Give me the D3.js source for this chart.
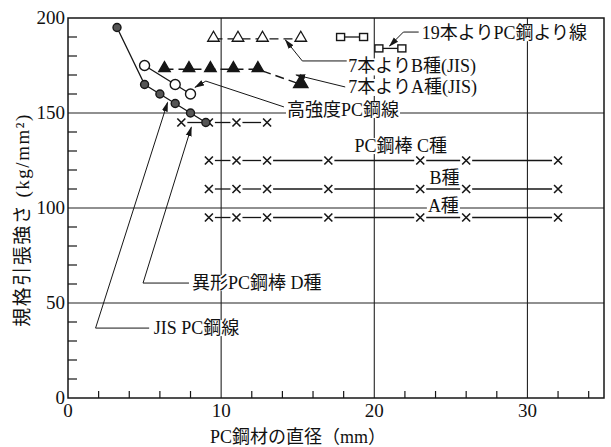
<!DOCTYPE html>
<html>
<head>
<meta charset="utf-8">
<script src="https://cdn.jsdelivr.net/npm/d3@7"></script>
<style>
	body { margin: 0; background: #fff; }
	svg text { font-family: "Liberation Serif", "Noto Sans CJK JP", serif; fill: #111; }
</style>
</head>
<body>
<div id="chart"></div>
<script>
	// --- data (diameter mm, strength kg/mm2) ---
	var jisX = [3.2, 5, 6, 7, 8, 9];
	var jisY = [195, 165, 160, 155, 150, 145];
	var highX = [5, 7, 8];
	var highY = [175, 165, 160];
	var s7aX = [6.3, 7.9, 9.3, 10.8, 12.4, 15.2];
	var s7aY = [173, 173, 173, 173, 173, 165];
	var s7bX = [9.5, 11.1, 12.7, 15.2];
	var s7bY = [189, 189, 189, 189];
	var s19aX = [17.8, 19.3];
	var s19aY = [190, 190];
	var s19bX = [20.3, 21.8];
	var s19bY = [184, 184];
	var barDX = [7.4, 9.2, 11, 13];
	var barDY = [145, 145, 145, 145];
	var barX = [9.2, 11, 13, 17, 23, 26, 32];
	var barCY = [125, 125, 125, 125, 125, 125, 125];
	var barBY = [110, 110, 110, 110, 110, 110, 110];
	var barAY = [95, 95, 95, 95, 95, 95, 95];
	var xTicks = [0, 10, 20, 30];
	var yTicks = [0, 50, 100, 150, 200];

	var W = 611, H = 447;
	var svg = d3.select('#chart').append('svg')
		.attr('width', W)
		.attr('height', H)

	var x = d3.scaleLinear().domain([0, 35]).range([68, 604])
	var y = d3.scaleLinear().domain([0, 200]).range([398, 18])

	var ink = '#161616'
	var zip = (a, b) => a.map((v, i) => [v, b[i]])

	// arrow head
	svg.append('defs').append('marker')
		.attr('id', 'arr')
		.attr('markerUnits', 'userSpaceOnUse')
		.attr('viewBox', '0 -4 10 8')
		.attr('refX', 9).attr('refY', 0)
		.attr('markerWidth', 10).attr('markerHeight', 8)
		.attr('orient', 'auto')
		.append('path').attr('d', 'M0,-3L10,0L0,3Z').attr('fill', ink)

	// grid
	var grid = svg.append('g').attr('stroke', '#222').attr('stroke-width', 1.1)
	grid.selectAll('line.gx').data([10, 20, 30]).enter().append('line')
		.attr('x1', d => x(d)).attr('x2', d => x(d))
		.attr('y1', y(0)).attr('y2', y(200))
	grid.selectAll('line.gy').data([50, 100, 150]).enter().append('line')
		.attr('y1', d => y(d)).attr('y2', d => y(d))
		.attr('x1', x(0)).attr('x2', x(35))

	// minor ticks inside the frame
	var minor = svg.append('g').attr('stroke', ink).attr('stroke-width', 1.2)
	minor.selectAll('line.mx').data(d3.range(2, 35, 2).filter(d => d % 10)).enter().append('line')
		.attr('x1', d => x(d)).attr('x2', d => x(d))
		.attr('y1', y(0)).attr('y2', y(0) - 7)
	minor.selectAll('line.my').data(d3.range(10, 200, 10).filter(d => d % 50)).enter().append('line')
		.attr('y1', d => y(d)).attr('y2', d => y(d))
		.attr('x1', x(0)).attr('x2', x(0) + 9)

	// frame
	svg.append('rect')
		.attr('x', x(0)).attr('y', y(200))
		.attr('width', x(35) - x(0)).attr('height', y(0) - y(200))
		.attr('fill', 'none').attr('stroke', ink).attr('stroke-width', 1.5)

	// tick labels
	svg.selectAll('text.xt').data(xTicks).enter().append('text')
		.attr('x', d => x(d)).attr('y', y(0) + 19)
		.attr('text-anchor', 'middle').attr('font-size', 19)
		.text(d => d)
	svg.selectAll('text.yt').data(yTicks).enter().append('text')
		.attr('x', x(0) - 3).attr('y', d => y(d) + 6)
		.attr('text-anchor', 'end').attr('font-size', 19)
		.text(d => d)

	// axis titles
	svg.append('text')
		.attr('x', 298).attr('y', 443)
		.attr('text-anchor', 'middle').attr('font-size', 18)
		.text('PC鋼材の直径（mm）')
	svg.append('text')
		.attr('transform', 'translate(29,220) rotate(-90)')
		.attr('text-anchor', 'middle').attr('font-size', 19)
		.attr('letter-spacing', 1.5)
		.text('規格引張強さ (kg/mm²)')

	// labels with white backing
	function label(tx, ty, str) {
		var g = svg.append('g')
		var t = g.append('text')
			.attr('x', x(tx)).attr('y', y(ty) + 6)
			.attr('font-size', 18)
			.text(str)
		var b = t.node().getBBox()
		g.insert('rect', 'text')
			.attr('x', b.x - 1).attr('y', b.y + 2)
			.attr('width', b.width + 2).attr('height', b.height - 4)
			.attr('fill', '#fff')
	}
	function leader(pts, arrow) {
		svg.append('path')
			.attr('d', d3.line().x(d => x(d[0])).y(d => y(d[1]))(pts))
			.attr('fill', 'none').attr('stroke', ink).attr('stroke-width', 1)
			.attr('marker-end', arrow ? 'url(#arr)' : null)
	}

	label(23.1, 192, '19本よりPC鋼より線')
	leader([[22.9, 192.6], [21.9, 192.6], [21.0, 185.3]], true)
	label(18.3, 174.5, '7本よりB種(JIS)')
	leader([[18.2, 177.4], [15.3, 177.4], [14.2, 188.4]], true)
	label(18.3, 163.7, '7本よりA種(JIS)')
	leader([[18.1, 163.7], [14.9, 170]], true)
	label(14.3, 151.6, '高強度PC鋼線')
	leader([[14.1, 153.2], [9.0, 166.8], [8.3, 163.5]], true)
	label(18.7, 132.6, 'PC鋼棒 C種')
	label(23.6, 116, 'B種')
	label(23.5, 101, 'A種')
	label(8.1, 60.5, '異形PC鋼棒 D種')
	leader([[7.9, 60.5], [4.9, 60.5], [8.05, 142.5]], true)
	label(5.6, 36.8, 'JIS PC鋼線')
	leader([[5.3, 36.8], [1.8, 36.8], [6.5, 155.5]], true)

	var line = d3.line().x(d => x(d[0])).y(d => y(d[1]))

	// PC bar rows (x markers with gaps)
	function xRow(xsArr, ysArr) {
		var pts = zip(xsArr, ysArr)
		var g = svg.append('g')
		g.selectAll('line').data(pts.slice(1)).enter().append('line')
			.attr('x1', (d, i) => x(pts[i][0]) + 6).attr('x2', d => x(d[0]) - 6)
			.attr('y1', (d, i) => y(pts[i][1])).attr('y2', d => y(d[1]))
			.attr('stroke', ink).attr('stroke-width', 1.3)
		g.selectAll('path').data(pts).enter().append('path')
			.attr('d', d => {
				var cx = x(d[0]), cy = y(d[1])
				return 'M' + (cx - 4) + ',' + (cy - 4) + 'L' + (cx + 4) + ',' + (cy + 4) +
					'M' + (cx - 4) + ',' + (cy + 4) + 'L' + (cx + 4) + ',' + (cy - 4)
			})
			.attr('stroke', ink).attr('stroke-width', 1.6).attr('fill', 'none')
	}
	xRow(barDX, barDY)
	xRow(barX, barCY)
	xRow(barX, barBY)
	xRow(barX, barAY)

	// strands, triangles, dashed
	function triRow(xsArr, ysArr, filled) {
		var pts = zip(xsArr, ysArr)
		svg.append('path').attr('d', line(pts))
			.attr('fill', 'none').attr('stroke', ink).attr('stroke-width', 1.4)
			.attr('stroke-dasharray', '9,5')
		svg.append('g').selectAll('path').data(pts).enter().append('path')
			.attr('d', (d, i) => {
				var s = (filled && i === pts.length - 1) ? 1.25 : 1
				return d3.symbol().type(d3.symbolTriangle).size(58 * s * s)()
			})
			.attr('transform', d => 'translate(' + x(d[0]) + ',' + (y(d[1]) - 1) + ')')
			.attr('fill', filled ? ink : '#fff').attr('stroke', ink).attr('stroke-width', 1.3)
	}
	triRow(s7bX, s7bY, false)
	triRow(s7aX, s7aY, true)

	// 19 wire strand, squares
	;[zip(s19aX, s19aY), zip(s19bX, s19bY)].forEach(pts => {
		svg.append('path').attr('d', line(pts))
			.attr('fill', 'none').attr('stroke', ink).attr('stroke-width', 1.3)
		svg.append('g').selectAll('rect').data(pts).enter().append('rect')
			.attr('x', d => x(d[0]) - 4).attr('y', d => y(d[1]) - 3.5)
			.attr('width', 8).attr('height', 7)
			.attr('fill', '#fff').attr('stroke', ink).attr('stroke-width', 1.4)
	})

	// wires, circles
	function circRow(xsArr, ysArr, filled) {
		var pts = zip(xsArr, ysArr)
		svg.append('path').attr('d', line(pts))
			.attr('fill', 'none').attr('stroke', ink).attr('stroke-width', 1.3)
		svg.append('g').selectAll('circle').data(pts).enter().append('circle')
			.attr('cx', d => x(d[0])).attr('cy', d => y(d[1]))
			.attr('r', filled ? 4 : 5)
			.attr('fill', filled ? '#555' : '#fff').attr('stroke', ink).attr('stroke-width', 1.4)
	}
	circRow(highX, highY, false)
	circRow(jisX, jisY, true)
</script>
</body>
</html>
